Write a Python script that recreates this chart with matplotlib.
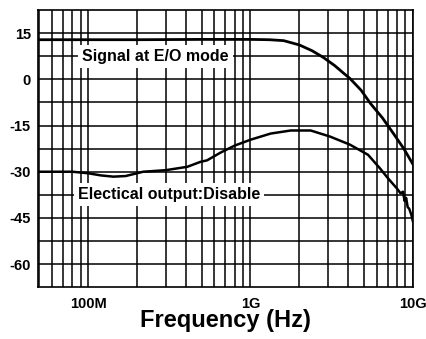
import numpy as np
import matplotlib
matplotlib.use("Agg")
import matplotlib.pyplot as plt
from matplotlib.ticker import FixedLocator, NullFormatter

plt.rcParams['font.family'] = ['Liberation Sans', 'DejaVu Sans']
plt.rcParams['axes.unicode_minus'] = False

# Signal at E/O mode (frequency in Hz, response in dB)
sig_freq = [50e6, 100e6, 200e6, 500e6, 1.0e9, 1.3e9, 1.6e9, 2.0e9, 2.4e9, 2.8e9,
            3.3e9, 3.75e9, 4.1e9, 4.8e9, 5.5e9, 6.5e9, 7.6e9, 8.8e9, 10e9]
sig_val = [12.9, 12.9, 12.9, 13.0, 13.0, 12.9, 12.6, 11.2, 9.3, 7.2,
           4.5, 2.0, 0.3, -3.5, -7.9, -12.5, -17.6, -22.5, -27.5]

# Electrical output disabled
off_freq = [50e6, 80e6, 100e6, 120e6, 143e6, 170e6, 218e6, 300e6, 408e6, 491e6,
            540e6, 653e6, 800e6, 1.0e9, 1.33e9, 1.77e9, 2.35e9, 3.1e9, 4.1e9, 5.3e9,
            6.3e9, 7.0e9, 8.0e9, 8.4e9, 8.7e9, 8.9e9, 9.1e9, 9.3e9, 9.5e9, 9.8e9, 10e9]
off_val = [-30.0, -30.0, -30.5, -31.2, -31.6, -31.4, -30.0, -29.5, -28.4, -26.8,
           -26.3, -23.8, -21.5, -19.6, -17.6, -16.6, -16.6, -18.6, -21.2, -24.5,
           -29.0, -32.0, -35.5, -37.0, -36.5, -39.5, -38.5, -41.5, -42.0, -44.0, -46.0]

y_ticks = [15, 0, -15, -30, -45, -60]
x_ticks = [1e8, 1e9, 1e10]
x_labels = ["100M", "1G", "10G"]

fig = plt.figure(figsize=(4.26, 3.39), dpi=100)
ax = fig.add_axes([0.089, 0.153, 0.880, 0.817])

ax.set_xscale('log')
ax.set_xlim(49e6, 10e9)
ax.set_ylim(-67.5, 22.5)

minor_x = [m * 10**e for e in (7, 8, 9) for m in range(2, 10)]
ax.xaxis.set_major_locator(FixedLocator(x_ticks))
ax.xaxis.set_minor_locator(FixedLocator(minor_x))
ax.xaxis.set_minor_formatter(NullFormatter())
ax.set_xticklabels(x_labels)
ax.set_yticks(y_ticks)
ax.yaxis.set_minor_locator(FixedLocator(np.arange(-60, 22.5, 7.5)))

ax.grid(True, which='both', color='black', linewidth=1.1)
ax.set_axisbelow(True)
ax.tick_params(which='both', length=0)
ax.tick_params(axis='y', pad=5)
ax.tick_params(axis='x', pad=7)
for lbl in ax.get_xticklabels() + ax.get_yticklabels():
    lbl.set_fontweight('bold')
    lbl.set_fontsize(10.5)

for s in ax.spines.values():
    s.set_linewidth(1.2)

ax.plot(sig_freq, sig_val, color='black', linewidth=2.0, zorder=3)
ax.plot(off_freq, off_val, color='black', linewidth=1.8, zorder=3)

box = dict(facecolor='white', edgecolor='none', pad=3)
ax.text(2.6e8, 7.5, "Signal at E/O mode", fontsize=11.5, fontweight='bold',
        ha='center', va='center', bbox=box, zorder=4)
ax.text(3.15e8, -37.5, "Electical output:Disable", fontsize=11.5, fontweight='bold',
        ha='center', va='center', bbox=box, zorder=4)

ax.set_xlabel("Frequency (Hz)", fontsize=17, fontweight='bold', labelpad=-1)

fig.savefig("out.png", dpi=100)
